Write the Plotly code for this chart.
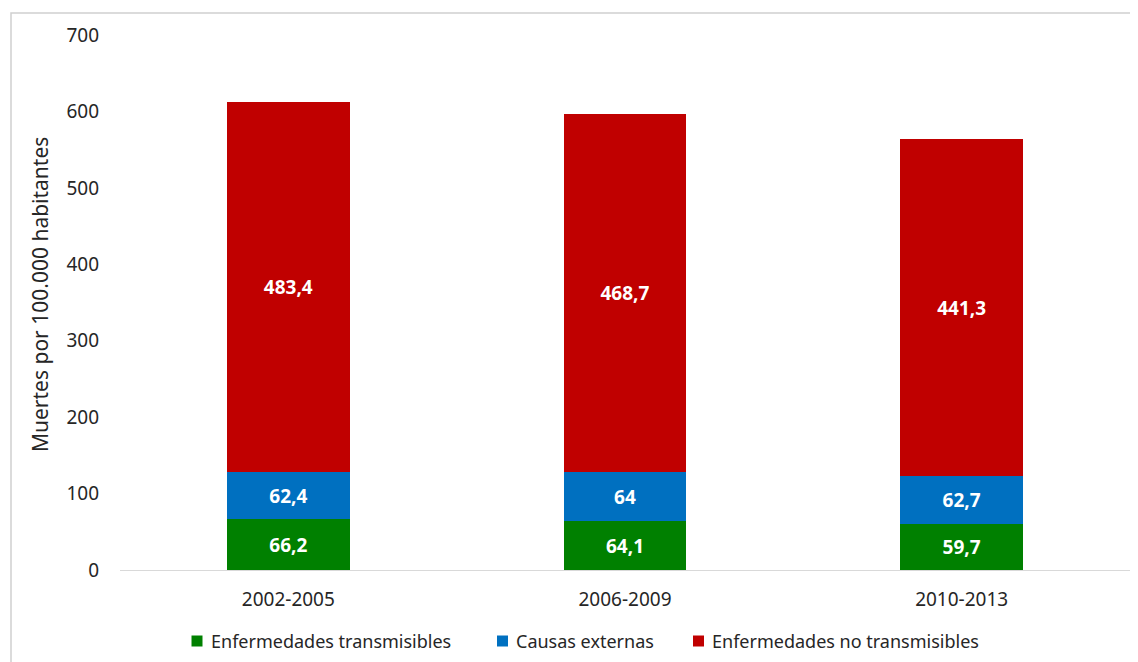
import plotly.graph_objects as go

periods = ["2002-2005", "2006-2009", "2010-2013"]
transmisibles = [66.2, 64.1, 59.7]
externas = [62.4, 64.0, 62.7]
no_transmisibles = [483.4, 468.7, 441.3]
y_ticks = [0, 100, 200, 300, 400, 500, 600, 700]
y_title = "Muertes por 100.000 habitantes"

def fmt(v):
    s = ("%.1f" % v).rstrip("0").rstrip(".")
    return s.replace(".", ",")

series = [
    ("Enfermedades transmisibles", transmisibles, "#008000"),
    ("Causas externas", externas, "#0070C0"),
    ("Enfermedades no transmisibles", no_transmisibles, "#C00000"),
]

FONT = "Noto Sans"
TXT = "#262626"
fig = go.Figure()
for name, vals, col in series:
    fig.add_trace(go.Bar(
        x=periods, y=vals, name=name,
        marker=dict(color=col, line=dict(width=0)),
        text=[fmt(v) for v in vals],
        textposition="inside", insidetextanchor="middle",
        textfont=dict(family=FONT, size=19, color="white", weight="bold"),
        hoverinfo="skip", showlegend=False,
    ))

# The page body adds an 8px offset; page-pixel layout is converted below.
OFF = 8
W, H = 1138 - OFF, 662 - OFF
PX0, PX1 = 120, 1130      # plot area in page pixels (x)
PY0, PY1 = 35, 570        # plot area in page pixels (y top, bottom)
ml, mr = PX0 - OFF, W - (PX1 - OFF)
mt, mb = PY0 - OFF, H - (PY1 - OFF)
pw, ph = PX1 - PX0, PY1 - PY0

def px(x):
    return (x - PX0) / pw

def py(y):
    return (PY1 - y) / ph

shapes = [dict(type="rect", xref="paper", yref="paper",
               x0=px(11), x1=1.2, y0=-0.5, y1=py(13),
               line=dict(color="#d0d0d0", width=1.5), layer="below")]
annotations = [dict(xref="paper", yref="paper", x=px(40), y=py(295),
                    xanchor="center", yanchor="middle", showarrow=False,
                    textangle=-90, text=y_title,
                    font=dict(family=FONT, size=21, color=TXT))]
legend_x = [191.5, 497, 693]
ly = 641
for (name, vals, col), lx in zip(series, legend_x):
    shapes.append(dict(type="rect", xref="paper", yref="paper",
                       x0=px(lx), x1=px(lx + 11), y0=py(ly + 5.5), y1=py(ly - 5.5),
                       fillcolor=col, line=dict(width=0)))
    annotations.append(dict(xref="paper", yref="paper", x=px(lx + 17), y=py(ly),
                            xanchor="left", yanchor="middle", showarrow=False,
                            text=name, font=dict(family=FONT, size=18, color=TXT)))

fig.update_layout(
    width=W, height=H,
    barmode="stack", bargap=0.636,
    margin=dict(l=ml, r=mr, t=mt, b=mb),
    paper_bgcolor="white", plot_bgcolor="white",
    font=dict(family=FONT, size=19, color=TXT),
    showlegend=False,
    xaxis=dict(showgrid=False, showline=True, linecolor="#d9d9d9", linewidth=1,
               ticks="", ticklabelstandoff=12, tickfont=dict(size=19)),
    yaxis=dict(range=[0, 700], tickvals=y_ticks, showgrid=False, showline=False,
               zeroline=False, ticks="", ticklabelstandoff=20,
               tickfont=dict(size=19)),
    shapes=shapes,
    annotations=annotations,
)

fig.write_html("out.html")
